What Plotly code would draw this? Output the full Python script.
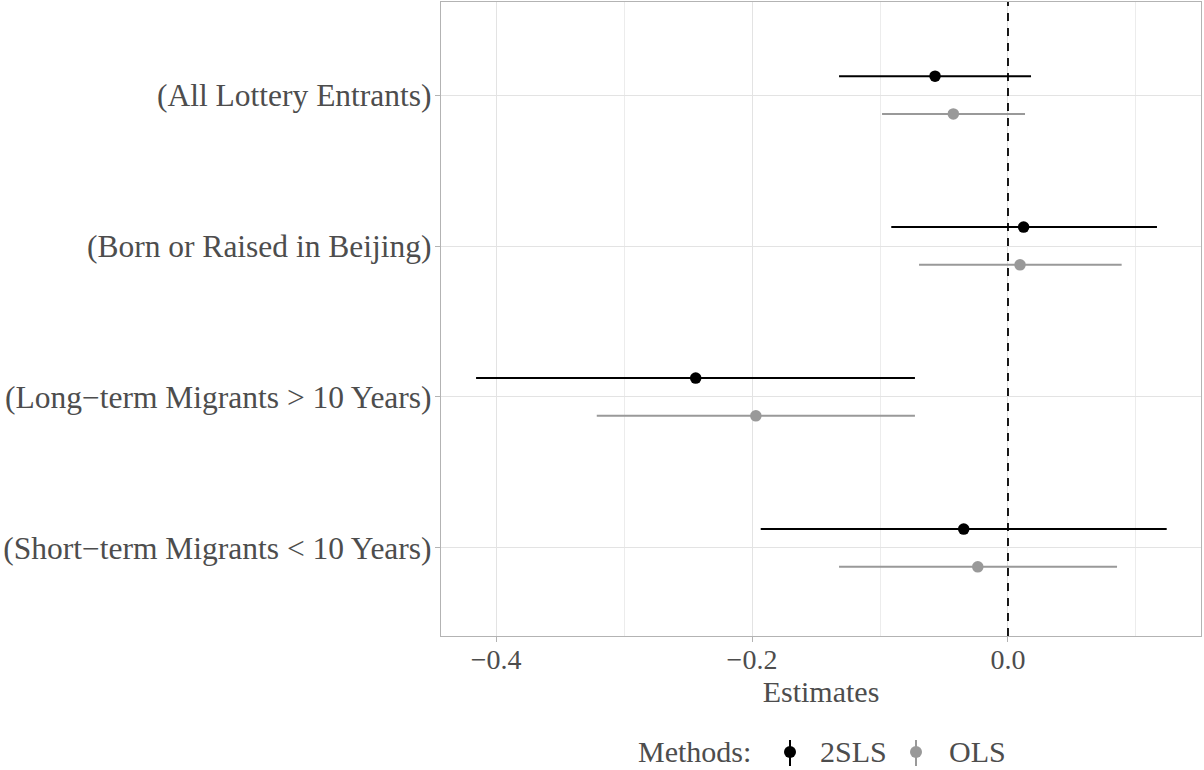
import plotly.graph_objects as go

categories = ["(All Lottery Entrants)", "(Born or Raised in Beijing)",
              "(Long\u2212term Migrants > 10 Years)", "(Short\u2212term Migrants < 10 Years)"]
est_2sls = [-0.057, 0.0122, -0.244, -0.0346]
lo_2sls = [-0.132, -0.0912, -0.4156, -0.1932]
hi_2sls = [0.018, 0.1164, -0.0727, 0.124]
est_ols = [-0.0427, 0.0094, -0.197, -0.0236]
lo_ols = [-0.0984, -0.0695, -0.3213, -0.132]
hi_ols = [0.0133, 0.0888, -0.0727, 0.0852]
x_ticks = [-0.4, -0.2, 0.0]
x_ticktext = ["\u22120.4", "\u22120.2", "0.0"]

FONT = "Liberation Serif"
TXT = "#4d4d4d"
GREY = "#999999"

pos = list(range(1, len(categories) + 1))
off = 0.125

fig = go.Figure()

def add_series(est, lo, hi, shift, color, name, size):
    fig.add_trace(go.Scatter(
        x=est, y=[p + shift for p in pos], mode="markers", name=name,
        marker=dict(color=color, size=size),
        error_x=dict(type="data", symmetric=False,
                     array=[h - e for h, e in zip(hi, est)],
                     arrayminus=[e - l for e, l in zip(est, lo)],
                     color=color, thickness=2, width=0),
        showlegend=False, hoverinfo="x+y"))

add_series(est_2sls, lo_2sls, hi_2sls, -off, "black", "2SLS", 11.5)
add_series(est_ols, lo_ols, hi_ols, off, GREY, "OLS", 11.5)

fig.add_shape(type="line", xref="x", yref="paper", x0=0, x1=0, y0=0, y1=1,
              line=dict(color="black", width=1.8, dash="8px,7px"))

# layout geometry
W, H = 1204, 770
L, R, T, B = 441, 3, 2, 134

def px(xp):
    return (xp - L) / (W - L - R)

def py(yp):
    return (H - B - yp) / (H - T - B)

# manual legend
fig.add_annotation(text="Methods:", xref="paper", yref="paper", x=px(753), y=py(751),
                   xanchor="right", yanchor="middle", showarrow=False,
                   font=dict(family=FONT, size=30, color=TXT))
for xc, col, label, xt in [(790, "black", "2SLS", 818), (916, GREY, "OLS", 947)]:
    fig.add_shape(type="line", xref="paper", yref="paper", x0=px(xc), x1=px(xc),
                  y0=py(740), y1=py(766), line=dict(color=col, width=2))
    fig.add_shape(type="circle", xref="paper", yref="paper", xsizemode="pixel",
                  ysizemode="pixel", xanchor=px(xc), yanchor=py(752),
                  x0=-6, x1=6, y0=-6, y1=6, fillcolor=col, line=dict(width=0))
    fig.add_annotation(text=label, xref="paper", yref="paper", x=px(xt), y=py(751),
                       xanchor="left", yanchor="middle", showarrow=False,
                       font=dict(family=FONT, size=30, color=TXT))

fig.update_layout(
    width=W, height=H, margin=dict(l=L, r=R, t=T, b=B),
    plot_bgcolor="white", paper_bgcolor="white",
    font=dict(family=FONT, size=30, color=TXT),
    showlegend=False,
    xaxis=dict(range=[-0.443, 0.1508], tickvals=x_ticks, ticktext=x_ticktext,
               showgrid=True, gridcolor="#e3e3e3", gridwidth=1,
               minor=dict(tickvals=[-0.3, -0.1, 0.1], showgrid=True,
                          gridcolor="#ececec", gridwidth=1, ticks=""),
               zeroline=False, showline=True, mirror=True, linecolor="#b3b3b3",
               linewidth=1.2, ticks="outside", ticklen=5, tickcolor="#b3b3b3",
               ticklabelstandoff=-7,
               tickfont=dict(family=FONT, size=28, color=TXT),
               title=dict(text="Estimates", standoff=0,
                          font=dict(family=FONT, size=30, color=TXT))),
    yaxis=dict(range=[4.583, 0.384], tickvals=pos, ticktext=categories,
               showgrid=True, gridcolor="#e3e3e3", gridwidth=1,
               zeroline=False, showline=True, mirror=True, linecolor="#b3b3b3",
               linewidth=1.2, ticks="outside", ticklen=5, tickcolor="#b3b3b3",
               ticklabelstandoff=-3,
               tickfont=dict(family=FONT, size=31.5, color=TXT)),
)

fig.write_html("out.html")
